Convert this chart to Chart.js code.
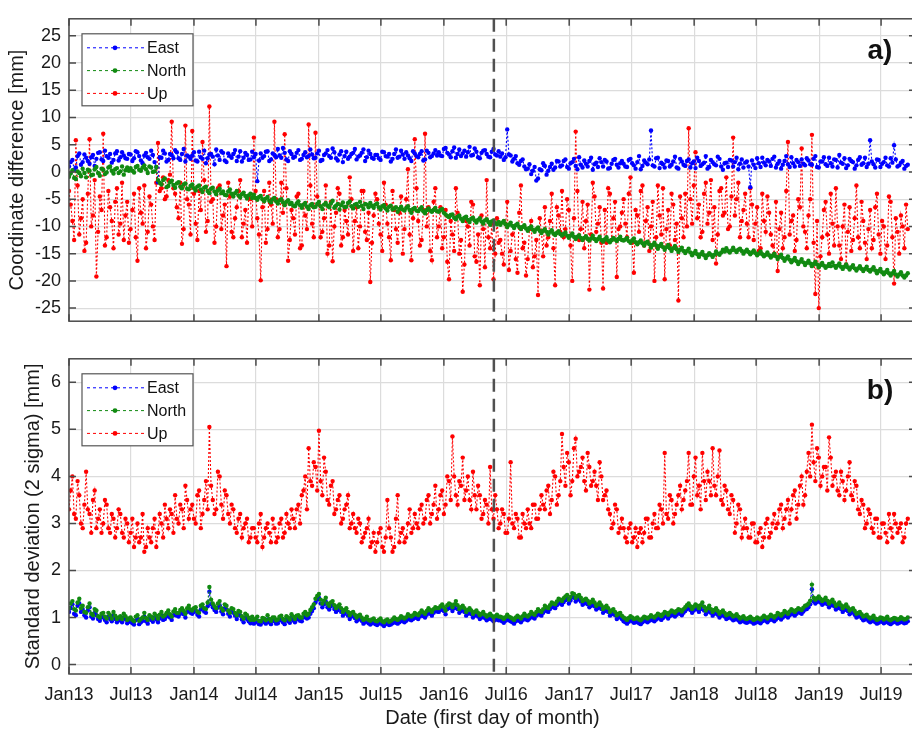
<!DOCTYPE html>
<html>
<head>
<meta charset="utf-8">
<script src="https://cdn.jsdelivr.net/npm/chart.js@4.4.0/dist/chart.umd.min.js"></script>
<style>
    html, body { margin: 0; padding: 0; background: #fff; overflow: hidden; width: 912px; height: 732px; }
    canvas { display: block; }
</style>
</head>
<body>
<canvas id="grafico-diferenca" width="920" height="340"></canvas>
<canvas id="grafico-desvio" width="920" height="392"></canvas>
<script>
// values read every 10 days from 1 Jan 2013 (day 0); the "Mid" lists are the readings 5 days later
const stepDays = 10;

// x axis: days since 1 Jan 2013 for the first day of each labelled month
const tickDays = [0, 181, 365, 546, 730, 911, 1095, 1277, 1461, 1642, 1826, 2007, 2191, 2372];
const tickLabels = ["Jan13", "Jul13", "Jan14", "Jul14", "Jan15", "Jul15", "Jan16", "Jul16", "Jan17", "Jul17", "Jan18", "Jul18", "Jan19", "Jul19"];
const splitDay = 1241; // dashed line, end of May 2016
const seriesNames = ["East", "North", "Up"];

// a) coordinate difference [mm]
const eastDiff = [
    1.0, 2.2, 0.8, 3.4, 1.8, 2.6, 1.5, 3.1, 2.4, 3.6, 2.0, 2.9, 3.3, 2.2, 3.8, 2.7, 3.0, 2.4,
    3.2, 2.5, 3.6, 2.1, 3.0, 2.7, 3.9, 1.8, -1.9, 2.6, 3.4, 2.2, 3.1, 4.0, 2.5, 3.3, 1.9, 2.8,
    3.0, 2.1, 3.7, 2.4, 1.6, 3.2, 2.8, 4.1, 2.2, 3.5, 1.8, 2.9, 3.3, 2.0, 3.8, 2.6, 3.1, 2.3,
    2.7, -1.7, 3.4, 2.9, 3.8, 2.3, 3.1, 4.2, 2.6, 3.5, 2.0, 3.3, 2.8, 4.0, 2.4, 3.6, 2.9, 3.2,
    2.6, 3.9, 2.2, 3.4, 2.9, 4.3, 2.5, 3.2, 1.8, 3.7, 2.8, 3.5, 2.3, 3.0, 4.1, 2.7, 3.3, 2.4,
    3.1, 2.2, 3.6, 2.8, 1.9, 3.3, 2.6, 3.9, 2.4, 3.0, 2.0, 3.4, 2.7, 3.8, 2.3, 3.5, 2.9, 4.0,
    3.6, 2.9, 4.4, 3.2, 3.8, 2.6, 4.1, 3.4, 2.8, 4.6, 3.1, 3.7, 2.5, 3.9, 3.3, 2.7, 4.2, 3.0,
    2.8, 2.2, 7.8, 3.0, 2.4, 1.6, 2.0, 1.0, 0.6, -0.4, 0.9, -1.2, 0.3, 1.1, 0.2, 1.5, 0.8, 1.9,
    1.2, 2.3, 0.6, 1.8, 1.1, 2.7, 0.8, 1.5, 2.0, 0.4, 1.7, 2.5, 1.0, 1.9, 0.7, 2.2, 1.3, 1.6,
    1.5, 0.9, 2.4, 1.2, 1.8, 0.5, 2.1, 1.4, 7.6, 1.0, 2.6, 1.7, 0.8, 2.0, 1.3, 2.8, 0.6, 1.9,
    1.1, 2.3, 1.6, 0.7, 2.0, 1.4, 2.9, 0.9, 1.8, 1.2, 2.4, 0.4, 1.7, 2.2, 1.0, 2.6, 1.5, 0.8,
    1.9, -2.8, 1.3, 2.5, 0.9, 1.7, 2.2, 1.1, 2.8, 1.5, 0.6, 2.0, 1.4, 2.7, 1.0, 1.8, 2.3, 1.2,
    2.1, 1.3, 2.9, 0.8, 1.9, 1.4, 2.6, 1.0, 2.2, 3.1, 1.5, 0.7, 2.4, 1.8, 1.2, 2.7, 1.6, 0.9,
    5.8, 1.4, 2.3, 0.9, 1.8, 1.2, 2.5, 4.9, 1.0, 1.7, 0.6, 1.3
];
const eastDiffMid = [
    1.8, 0.4, 2.9, 1.3, 3.2, 2.0, 2.7, 1.1, 3.5, 2.3, 3.9, 2.6, 1.7, 3.4, 2.1, 3.6, 2.5, 3.3,
    2.0, 3.8, 2.9, 1.6, 3.5, 2.4, 3.1, 0.9, 2.7, 3.9, 1.9, 3.3, 2.5, 3.6, 2.2, 4.2, 3.0, 2.4,
    3.6, 1.9, 2.7, 3.9, 2.5, 3.3, 1.4, 3.0, 3.8, 2.1, 3.4, 2.6, 4.0, 2.8, 1.9, 3.5, 2.2, 3.7,
    3.3, 2.1, 2.6, 3.7, 2.0, 3.4, 2.7, 3.0, 4.4, 2.3, 3.8, 2.6, 3.5, 2.2, 3.1, 2.7, 4.1, 2.5,
    3.4, 2.0, 3.1, 4.0, 2.6, 3.6, 2.1, 3.8, 2.9, 2.4, 3.3, 4.2, 2.8, 3.5, 2.0, 3.9, 2.6, 3.1,
    2.5, 3.7, 2.9, 3.3, 2.4, 4.1, 2.8, 3.2, 3.6, 2.5, 3.8, 2.9, 3.3, 2.1, 3.9, 2.7, 3.4, 3.0,
    3.0, 4.2, 3.5, 2.7, 4.5, 3.3, 2.9, 3.9, 3.6, 3.0, 4.3, 2.7, 3.5, 4.0, 2.8, 3.7, 3.2, 3.8,
    3.4, 2.7, 3.2, 1.9, 2.9, 1.3, 2.3, 0.5, 1.4, 0.2, -1.6, 0.5, 1.6, -0.5, 0.9, 0.4, 2.0, 1.0,
    2.0, 0.9, 1.6, 2.4, 0.5, 1.3, 2.1, 1.0, 2.6, 1.4, 0.9, 1.8, 2.2, 0.6, 1.5, 2.4, 0.8, 2.0,
    1.0, 2.2, 1.6, 0.6, 2.9, 1.1, 1.7, 2.3, 1.2, 2.5, 0.7, 1.4, 2.1, 1.0, 1.9, 0.8, 2.4, 1.3,
    2.0, 0.8, 1.9, 2.6, 1.1, 1.7, 0.6, 2.2, 1.4, 2.8, 1.0, 1.6, 0.9, 2.1, 1.8, 0.5, 2.3, 1.7,
    1.0, 2.1, 0.7, 1.6, 2.6, 1.2, 1.9, 2.4, 0.8, 2.0, 1.3, 2.9, 0.9, 1.6, 2.2, 1.1, 1.5, 2.5,
    1.4, 2.4, 0.9, 1.9, 2.7, 1.1, 1.6, 2.3, 0.8, 1.7, 2.5, 1.2, 2.0, 0.6, 2.2, 1.3, 2.6, 1.5,
    1.9, 0.8, 2.2, 1.5, 2.6, 1.0, 1.7, 2.3, 1.2, 2.0, 1.1
];
const northDiff = [
    -0.9, 0.3, -1.3, -0.2, 0.6, -1.0, 0.2, -0.5, 0.9, -0.7, 0.4, -0.1, 1.0, -0.3, 0.7, 0.1, -0.5, 0.8,
    0.7, -0.1, 1.1, 0.2, 1.2, -0.2, 0.8, 0.1, -1.5, -2.3, -1.2, -2.6, -1.6, -2.9, -1.9, -3.0, -2.1, -3.2,
    -2.3, -3.4, -2.5, -3.7, -2.7, -3.9, -2.9, -4.1, -3.1, -3.6, -4.3, -3.2, -4.5, -3.5, -4.7, -3.8, -4.9, -4.0,
    -4.2, -5.1, -4.4, -5.4, -4.6, -5.6, -4.8, -5.8, -5.0, -6.1, -5.2, -5.7, -6.3, -5.4, -6.6, -5.7, -6.8, -5.9,
    -6.4, -5.5, -6.8, -5.7, -6.5, -5.3, -6.2, -6.9, -5.6, -6.4, -5.4, -6.7, -5.9, -5.5, -6.8, -6.0, -5.7, -6.6,
    -5.8, -6.9, -6.1, -7.1, -6.2, -6.7, -7.3, -6.4, -7.1, -6.3, -7.5, -6.6, -7.2, -6.5, -7.6, -6.7, -7.3, -6.6,
    -7.3, -6.8, -7.8, -8.3, -7.8, -8.7, -8.0, -9.0, -8.2, -9.2, -8.4, -9.3, -8.5, -9.5, -8.7, -9.7, -8.9, -9.6,
    -9.7, -9.0, -10.1, -9.3, -10.3, -9.5, -10.5, -9.8, -10.8, -10.0, -11.0, -10.2, -11.2, -10.5, -11.5, -10.7, -11.6, -10.9,
    -11.7, -11.1, -12.1, -11.3, -12.3, -11.6, -12.5, -11.8, -12.6, -11.7, -12.7, -11.9, -12.8, -12.0, -12.9, -12.1, -12.7, -11.9,
    -12.6, -12.1, -13.0, -12.2, -13.3, -12.6, -13.5, -12.8, -13.9, -13.0, -14.1, -13.2, -14.3, -13.4, -14.5, -13.6, -14.7, -13.9,
    -14.9, -14.1, -15.3, -14.5, -15.6, -14.7, -15.8, -14.9, -15.6, -14.6, -15.2, -14.3, -14.0, -14.8, -13.9, -14.7, -14.1, -15.0,
    -14.3, -15.1, -14.4, -15.3, -14.6, -15.5, -14.8, -15.7, -15.0, -16.0, -15.2, -16.3, -15.5, -16.6, -15.8, -16.9, -16.0, -17.1,
    -16.3, -17.3, -16.5, -17.5, -16.7, -17.6, -16.9, -16.6, -17.6, -16.8, -17.8, -17.0, -17.9, -17.1, -18.1, -17.3, -18.2, -17.4,
    -18.3, -17.5, -18.6, -17.8, -18.8, -18.0, -19.0, -18.2, -19.2, -18.4, -19.4, -18.6
];
const northDiffMid = [
    -0.3, -1.1, 0.1, -0.8, -0.2, 0.4, -0.6, 0.5, -0.2, 0.6, -0.4, 0.8, 0.2, 0.5, -0.2, 1.0, 0.3, 0.2,
    0.2, 0.9, 0.4, 0.8, 0.5, 1.0, 0.0, 0.9, -2.0, -1.5, -2.8, -1.9, -2.4, -2.1, -2.7, -2.3, -3.1, -2.6,
    -3.0, -2.7, -3.2, -2.9, -3.5, -3.1, -3.6, -3.4, -3.9, -4.2, -3.6, -4.0, -3.9, -4.3, -4.1, -4.4, -4.3, -4.8,
    -4.8, -4.6, -5.0, -4.9, -5.3, -5.0, -5.4, -5.2, -5.6, -5.5, -5.9, -6.2, -5.8, -6.1, -6.0, -6.4, -6.1, -6.5,
    -5.9, -6.3, -6.0, -6.2, -5.8, -6.6, -5.9, -6.1, -6.5, -5.7, -6.3, -6.0, -6.4, -6.2, -5.9, -6.5, -6.2, -6.0,
    -6.5, -6.3, -6.7, -6.4, -6.9, -6.5, -6.8, -6.9, -6.6, -7.0, -6.8, -7.1, -6.8, -7.2, -7.0, -7.1, -7.0, -7.2,
    -7.0, -7.5, -8.1, -7.9, -8.4, -8.2, -8.6, -8.4, -8.8, -8.6, -8.9, -8.8, -9.1, -8.9, -9.2, -9.1, -9.4, -9.2,
    -9.3, -9.6, -9.7, -9.9, -9.8, -10.1, -10.1, -10.4, -10.3, -10.6, -10.5, -10.8, -10.8, -11.0, -11.0, -11.3, -11.2, -11.4,
    -11.4, -11.7, -11.7, -11.9, -11.9, -12.1, -12.1, -12.3, -12.2, -12.3, -12.3, -12.5, -12.4, -12.6, -12.5, -12.4, -12.3, -12.5,
    -12.4, -12.7, -12.6, -12.9, -12.9, -13.1, -13.0, -13.3, -13.4, -13.5, -13.6, -13.8, -13.8, -14.0, -14.0, -14.2, -14.3, -14.5,
    -14.5, -14.8, -14.9, -15.1, -15.1, -15.3, -15.3, -15.2, -15.2, -15.0, -14.8, -14.6, -14.5, -14.4, -14.4, -14.3, -14.5, -14.6,
    -14.7, -14.8, -14.9, -15.0, -15.1, -15.2, -15.3, -15.4, -15.5, -15.6, -15.8, -15.9, -16.1, -16.2, -16.4, -16.5, -16.6, -16.7,
    -16.8, -16.9, -17.0, -17.1, -17.2, -17.3, -17.3, -17.2, -17.2, -17.4, -17.4, -17.5, -17.5, -17.7, -17.7, -17.8, -17.8, -18.0,
    -17.9, -18.1, -18.2, -18.4, -18.4, -18.6, -18.6, -18.8, -18.8, -19.0, -19.0
];
const upDiff = [
    -3.5, -9.0, 5.8, -11.5, -5.0, -13.0, 6.0, -8.0, -19.2, -4.5, 7.0, -12.0, -6.5, -14.0, -3.0, -9.5, -12.5, -5.5,
    -10.5, -4.0, -16.3, -7.5, -2.5, -11.0, -6.0, -12.5, 5.3, -3.0, -5.0, -1.5, 9.2, -4.0, -8.5, -13.2, 8.5, -6.0,
    7.5, -9.5, -3.5, 5.5, -11.0, 12.0, -5.0, -10.0, -2.5, -8.0, -17.3, -4.5, -12.0, -6.5, -1.5, -9.5, -13.0, -5.0,
    6.3, -8.5, -19.9, -3.5, -10.5, -6.0, 9.2, -12.0, -2.0, 6.9, -16.3, -7.0, -11.5, -4.0, -13.5, -8.0, 8.7, -9.5,
    7.2, -6.0, -11.0, -2.5, -13.5, -16.4, -7.5, -4.0, -12.0, -9.0, -1.0, -14.5, -6.5, -10.0, -3.5, -12.5, -20.2, -8.0,
    -5.0, -11.5, -2.0, -9.5, -16.2, -7.0, -13.0, -4.5, -10.5, 0.5, -16.2, 6.0, -9.0, -12.5, 7.0, -6.5, -16.2, -3.0,
    -10.0, -14.0, -7.0, -19.7, -11.5, -3.0, -15.0, -22.0, -9.0, -13.5, -6.0, -16.5, -20.8, -10.5, -1.5, -14.0, -19.7, -8.5,
    -12.5, -17.0, -5.5, -14.5, -10.0, -18.5, -2.5, -13.0, -16.0, -9.0, -15.5, -22.6, -11.0, -6.5, -12.0, -4.0, -20.8, -8.0,
    -3.5, -10.5, -7.0, -20.0, 7.4, -12.5, -5.5, -9.0, -21.6, -2.0, -11.0, -6.5, -21.4, -13.0, -4.0, -8.5, -19.3, -10.0,
    -5.0, -12.0, -1.0, -18.5, -8.0, -3.5, -13.5, -6.5, -10.0, -20.0, -2.5, -11.5, -19.7, -7.0, -4.0, -12.5, -23.6, -8.5,
    -4.0, 8.0, -9.5, 3.6, -6.0, -11.0, -2.0, -7.5, -12.5, -16.8, -3.5, -8.0, -1.0, -10.0, 6.3, -5.0, -12.0, -7.0,
    -9.5, -3.0, -12.5, -6.5, -14.0, -9.0, -4.5, -11.5, -15.0, -18.2, -7.5, -12.0, 5.5, -9.0, -14.5, -5.0, 4.3, -11.0,
    -8.0, 6.8, -22.4, -25.0, -12.0, -5.5, -15.0, -9.5, -3.0, -13.5, -10.0, -17.0, -6.5, -12.5, -2.5, -14.0, -9.0, -16.0,
    -7.0, -12.5, -4.0, -15.0, -10.0, -13.5, -5.5, -20.5, -11.0, -8.0, -14.0, -10.5
];
const upDiffMid = [
    -6.0, -12.5, -2.5, -8.5, -14.5, -4.0, -10.0, -1.5, -11.0, -7.0, -13.5, -3.5, -9.0, -5.5, -11.5, -2.0, -8.0, -13.0,
    -7.0, -12.0, -3.0, -9.5, -14.0, -4.5, -10.0, -2.0, -3.5, -1.0, -4.5, -0.5, -3.0, -6.5, -2.0, -10.5, -5.0, -11.5,
    -4.0, -12.5, -7.0, -1.5, -9.0, -5.5, -13.0, -3.0, -10.5, -6.0, -2.0, -11.0, -8.5, -3.5, -12.0, -7.0, -4.5, -10.0,
    -3.5, -11.5, -6.5, -13.0, -2.0, -9.5, -5.0, -10.5, -7.5, -3.0, -12.5, -8.5, -4.5, -14.0, -6.0, -10.5, -2.5, -12.0,
    -4.5, -12.0, -8.5, -15.0, -5.5, -10.0, -3.0, -13.5, -7.0, -11.5, -5.0, -9.0, -14.0, -3.5, -11.0, -7.5, -13.0, -4.0,
    -9.5, -14.5, -6.0, -12.0, -3.5, -10.5, -7.5, -15.0, -5.0, -11.5, -8.5, -3.0, -13.5, -7.0, -10.0, -14.5, -5.5, -12.0,
    -6.5, -12.0, -16.5, -9.0, -14.5, -7.5, -12.5, -17.0, -10.0, -5.5, -15.5, -11.5, -8.0, -17.5, -12.0, -9.5, -15.0, -13.0,
    -15.0, -9.5, -18.0, -11.5, -16.0, -7.5, -14.0, -19.0, -10.5, -17.5, -12.5, -8.5, -15.5, -13.5, -9.0, -14.0, -6.5, -11.0,
    -12.0, -5.0, -13.5, -8.5, -3.5, -10.5, -14.0, -6.0, -11.5, -4.5, -9.5, -13.0, -7.0, -3.0, -12.5, -5.5, -10.5, -7.5,
    -9.5, -4.0, -13.0, -7.0, -11.0, -2.5, -9.0, -14.5, -5.5, -12.0, -8.0, -3.0, -10.5, -13.5, -6.0, -9.5, -4.5, -12.0,
    -10.0, -5.0, -2.5, -8.5, -12.0, -4.0, -9.5, -1.5, -6.5, -11.5, -3.0, -7.5, -10.5, -4.5, -8.0, -2.0, -9.0, -4.0,
    -12.0, -6.0, -9.5, -14.5, -4.0, -11.0, -7.5, -13.5, -5.5, -10.5, -14.0, -3.5, -11.5, -8.0, -12.5, -6.5, -10.0, -14.0,
    -5.0, -13.0, -9.0, -15.5, -7.0, -11.5, -4.0, -13.5, -10.0, -16.0, -6.0, -11.0, -14.5, -8.5, -12.0, -5.5, -13.0, -10.5,
    -14.0, -6.5, -11.5, -9.0, -16.0, -4.5, -12.0, -8.5, -15.0, -10.0, -6.0
];

// b) standard deviation (2 sigma) [mm]
const eastSigma = [
    1.12, 1.28, 1.05, 1.3, 1.18, 1.0, 1.22, 0.98, 1.05, 0.93, 1.02, 0.9, 0.97, 1.04, 0.9, 0.95, 1.0, 0.88,
    0.93, 0.85, 0.97, 0.9, 1.02, 0.87, 0.95, 1.0, 0.9, 1.04, 0.97, 1.07, 0.95, 1.1, 1.02, 1.12, 1.0, 1.17,
    1.08, 1.14, 1.02, 1.2, 1.1, 1.55, 1.22, 1.12, 1.26, 1.07, 1.17, 1.02, 1.1, 0.97, 1.04, 0.9, 0.97, 0.88,
    0.87, 0.94, 0.85, 0.9, 0.96, 0.86, 0.92, 0.88, 0.96, 0.86, 0.92, 0.99, 0.9, 0.97, 0.92, 1.04, 1.0, 1.14,
    1.32, 1.42, 1.22, 1.34, 1.17, 1.27, 1.12, 1.2, 1.04, 1.12, 0.97, 1.04, 0.92, 0.98, 0.87, 0.94, 0.85, 0.9,
    0.84, 0.9, 0.82, 0.88, 0.85, 0.92, 0.87, 0.95, 0.9, 0.99, 0.94, 1.02, 0.97, 1.07, 1.0, 1.12, 1.04, 1.14,
    1.12, 1.2, 1.07, 1.22, 1.14, 1.27, 1.1, 1.17, 1.04, 1.12, 1.0, 1.07, 0.97, 1.04, 0.94, 1.0, 0.92, 0.98,
    0.94, 0.89, 0.98, 0.92, 0.87, 0.96, 0.9, 1.0, 0.94, 1.04, 0.98, 1.1, 1.04, 1.17, 1.12, 1.24, 1.2, 1.32,
    1.27, 1.37, 1.3, 1.44, 1.34, 1.4, 1.27, 1.32, 1.22, 1.3, 1.17, 1.24, 1.1, 1.17, 1.04, 1.1, 0.97, 1.02,
    0.92, 0.87, 0.95, 0.89, 0.92, 0.86, 0.94, 0.9, 0.97, 0.92, 1.0, 0.95, 1.04, 0.98, 1.07, 1.02, 1.1, 1.05,
    1.14, 1.22, 1.1, 1.2, 1.12, 1.24, 1.07, 1.17, 1.04, 1.12, 1.0, 1.07, 0.97, 1.02, 0.94, 0.99, 0.9, 0.95,
    0.89, 0.94, 0.87, 0.92, 0.88, 0.96, 0.9, 0.98, 0.92, 1.02, 0.96, 1.06, 1.0, 1.1, 1.04, 1.12, 1.08, 1.17,
    1.22, 1.6, 1.3, 1.37, 1.27, 1.34, 1.22, 1.3, 1.17, 1.24, 1.12, 1.2, 1.07, 1.12, 1.0, 1.04, 0.94, 0.98,
    0.9, 0.96, 0.87, 0.92, 0.88, 0.94, 0.86, 0.91, 0.87, 0.93, 0.88, 0.92
];
const eastSigmaMid = [
    1.2, 1.08, 1.25, 1.12, 1.05, 1.15, 1.02, 1.1, 0.97, 1.0, 0.95, 1.02, 0.92, 0.97, 0.94, 0.9, 0.96, 0.91,
    0.88, 0.94, 0.86, 0.93, 0.92, 0.97, 0.91, 0.96, 0.98, 0.95, 1.02, 1.0, 1.05, 1.04, 1.08, 1.07, 1.12, 1.1,
    1.12, 1.06, 1.17, 1.13, 1.24, 1.28, 1.16, 1.21, 1.13, 1.2, 1.08, 1.12, 1.04, 1.06, 0.96, 1.0, 0.92, 0.94,
    0.9, 0.86, 0.92, 0.87, 0.9, 0.93, 0.87, 0.94, 0.9, 0.96, 0.89, 0.94, 0.96, 0.93, 1.0, 0.98, 1.08, 1.2,
    1.38, 1.3, 1.28, 1.22, 1.24, 1.18, 1.16, 1.12, 1.08, 1.04, 1.02, 0.99, 0.96, 0.93, 0.9, 0.88, 0.88, 0.86,
    0.87, 0.85, 0.86, 0.84, 0.88, 0.89, 0.9, 0.92, 0.93, 0.96, 0.97, 0.99, 1.02, 1.03, 1.06, 1.08, 1.1, 1.13,
    1.16, 1.14, 1.18, 1.2, 1.2, 1.18, 1.14, 1.12, 1.08, 1.07, 1.04, 1.02, 1.0, 0.99, 0.97, 0.96, 0.95, 0.94,
    0.92, 0.93, 0.94, 0.9, 0.92, 0.93, 0.95, 0.96, 0.98, 1.0, 1.04, 1.06, 1.1, 1.14, 1.18, 1.22, 1.26, 1.3,
    1.33, 1.4, 1.36, 1.42, 1.38, 1.34, 1.3, 1.28, 1.25, 1.24, 1.2, 1.18, 1.14, 1.12, 1.07, 1.05, 1.0, 0.97,
    0.9, 0.91, 0.92, 0.9, 0.88, 0.9, 0.92, 0.93, 0.94, 0.96, 0.98, 0.99, 1.02, 1.03, 1.05, 1.06, 1.08, 1.1,
    1.18, 1.16, 1.15, 1.17, 1.18, 1.15, 1.12, 1.1, 1.08, 1.06, 1.04, 1.02, 0.99, 0.98, 0.96, 0.94, 0.92, 0.9,
    0.91, 0.9, 0.89, 0.9, 0.92, 0.93, 0.94, 0.95, 0.96, 0.99, 1.0, 1.03, 1.05, 1.07, 1.08, 1.1, 1.13, 1.18,
    1.28, 1.34, 1.33, 1.32, 1.3, 1.28, 1.26, 1.24, 1.2, 1.18, 1.16, 1.14, 1.1, 1.06, 1.02, 0.99, 0.96, 0.93,
    0.92, 0.9, 0.89, 0.91, 0.9, 0.88, 0.89, 0.9, 0.89, 0.9, 0.89
];
const northSigma = [
    1.2, 1.35, 1.15, 1.4, 1.25, 1.1, 1.3, 1.05, 1.15, 1.0, 1.1, 0.98, 1.05, 1.12, 0.97, 1.03, 1.08, 0.95,
    1.0, 0.92, 1.05, 0.97, 1.1, 0.95, 1.02, 1.08, 0.98, 1.12, 1.05, 1.15, 1.02, 1.18, 1.1, 1.2, 1.08, 1.25,
    1.15, 1.22, 1.1, 1.28, 1.18, 1.65, 1.3, 1.2, 1.35, 1.15, 1.25, 1.1, 1.18, 1.05, 1.12, 0.98, 1.05, 0.95,
    0.95, 1.02, 0.92, 0.98, 1.05, 0.93, 1.0, 0.96, 1.04, 0.94, 1.0, 1.07, 0.97, 1.05, 1.0, 1.12, 1.08, 1.22,
    1.4, 1.5, 1.3, 1.42, 1.25, 1.35, 1.2, 1.28, 1.12, 1.2, 1.05, 1.12, 1.0, 1.06, 0.95, 1.02, 0.93, 0.98,
    0.92, 0.98, 0.9, 0.96, 0.93, 1.0, 0.95, 1.03, 0.98, 1.07, 1.02, 1.1, 1.05, 1.15, 1.08, 1.2, 1.12, 1.22,
    1.2, 1.28, 1.15, 1.3, 1.22, 1.35, 1.18, 1.25, 1.12, 1.2, 1.08, 1.15, 1.05, 1.12, 1.02, 1.08, 1.0, 1.06,
    1.02, 0.97, 1.06, 1.0, 0.95, 1.04, 0.98, 1.08, 1.02, 1.12, 1.06, 1.18, 1.12, 1.25, 1.2, 1.32, 1.28, 1.4,
    1.35, 1.45, 1.38, 1.52, 1.42, 1.48, 1.35, 1.4, 1.3, 1.38, 1.25, 1.32, 1.18, 1.25, 1.12, 1.18, 1.05, 1.1,
    1.0, 0.95, 1.03, 0.97, 1.0, 0.94, 1.02, 0.98, 1.05, 1.0, 1.08, 1.03, 1.12, 1.06, 1.15, 1.1, 1.18, 1.13,
    1.22, 1.3, 1.18, 1.28, 1.2, 1.32, 1.15, 1.25, 1.12, 1.2, 1.08, 1.15, 1.05, 1.1, 1.02, 1.07, 0.98, 1.03,
    0.97, 1.02, 0.95, 1.0, 0.96, 1.04, 0.98, 1.06, 1.0, 1.1, 1.04, 1.14, 1.08, 1.18, 1.12, 1.2, 1.16, 1.25,
    1.3, 1.7, 1.38, 1.45, 1.35, 1.42, 1.3, 1.38, 1.25, 1.32, 1.2, 1.28, 1.15, 1.2, 1.08, 1.12, 1.02, 1.06,
    0.98, 1.04, 0.95, 1.0, 0.96, 1.02, 0.94, 0.99, 0.95, 1.01, 0.96, 1.0
];
const northSigmaMid = [
    1.3, 1.18, 1.32, 1.2, 1.12, 1.22, 1.08, 1.18, 1.03, 1.08, 1.02, 1.1, 0.98, 1.04, 1.0, 0.97, 1.03, 0.98,
    0.95, 1.02, 0.93, 1.0, 0.99, 1.05, 0.98, 1.04, 1.06, 1.02, 1.1, 1.07, 1.13, 1.1, 1.16, 1.14, 1.2, 1.17,
    1.2, 1.13, 1.25, 1.2, 1.32, 1.38, 1.24, 1.3, 1.2, 1.28, 1.15, 1.2, 1.1, 1.14, 1.03, 1.08, 0.99, 1.02,
    0.97, 0.93, 0.99, 0.94, 0.97, 1.0, 0.94, 1.02, 0.97, 1.03, 0.96, 1.02, 1.04, 1.0, 1.08, 1.05, 1.16, 1.28,
    1.46, 1.38, 1.36, 1.3, 1.32, 1.26, 1.24, 1.2, 1.16, 1.12, 1.1, 1.06, 1.04, 1.0, 0.97, 0.95, 0.96, 0.93,
    0.95, 0.92, 0.94, 0.91, 0.96, 0.97, 0.98, 1.0, 1.01, 1.04, 1.05, 1.07, 1.1, 1.11, 1.14, 1.16, 1.18, 1.2,
    1.24, 1.22, 1.26, 1.28, 1.28, 1.26, 1.22, 1.2, 1.16, 1.15, 1.12, 1.1, 1.08, 1.06, 1.05, 1.04, 1.03, 1.02,
    1.0, 1.01, 1.02, 0.98, 1.0, 1.01, 1.03, 1.04, 1.06, 1.08, 1.12, 1.14, 1.18, 1.22, 1.26, 1.3, 1.34, 1.38,
    1.41, 1.48, 1.44, 1.5, 1.46, 1.42, 1.38, 1.36, 1.33, 1.32, 1.28, 1.26, 1.22, 1.2, 1.15, 1.12, 1.08, 1.04,
    0.98, 0.99, 1.0, 0.98, 0.96, 0.98, 1.0, 1.01, 1.02, 1.04, 1.06, 1.07, 1.1, 1.11, 1.13, 1.14, 1.16, 1.18,
    1.26, 1.24, 1.23, 1.25, 1.26, 1.23, 1.2, 1.18, 1.16, 1.14, 1.12, 1.1, 1.07, 1.06, 1.04, 1.02, 1.0, 0.98,
    0.99, 0.98, 0.97, 0.98, 1.0, 1.01, 1.02, 1.03, 1.04, 1.07, 1.08, 1.11, 1.13, 1.15, 1.16, 1.18, 1.21, 1.26,
    1.36, 1.42, 1.41, 1.4, 1.38, 1.36, 1.34, 1.32, 1.28, 1.26, 1.24, 1.22, 1.18, 1.14, 1.1, 1.07, 1.04, 1.01,
    1.0, 0.98, 0.97, 0.99, 0.98, 0.96, 0.97, 0.98, 0.97, 0.98, 0.97
];
const upSigma = [
    3.3, 4.0, 3.1, 3.6, 2.9, 4.1, 3.2, 3.5, 2.9, 3.3, 3.0, 3.4, 2.8, 3.1, 2.9, 3.2, 2.7, 3.0,
    2.8, 2.5, 3.0, 2.7, 2.4, 2.9, 2.6, 3.1, 2.8, 3.0, 3.4, 2.9, 3.2, 3.6, 3.0, 3.3, 3.8, 3.1,
    3.4, 3.0, 3.7, 3.2, 3.9, 5.05, 3.5, 3.3, 4.0, 3.1, 3.6, 3.0, 3.3, 2.8, 3.2, 2.9, 3.1, 2.7,
    2.9, 2.6, 3.2, 2.7, 3.0, 2.6, 2.9, 2.7, 3.1, 2.8, 3.0, 3.3, 2.9, 3.4, 3.6, 4.0, 4.6, 3.8,
    4.2, 4.97, 3.6, 4.1, 3.4, 3.9, 3.3, 3.6, 3.1, 3.4, 2.9, 3.2, 2.8, 3.0, 2.7, 2.9, 2.5, 2.8,
    2.6, 2.9, 2.4, 3.5, 2.7, 2.5, 3.6, 2.8, 2.6, 3.0, 2.8, 3.2, 2.9, 3.4, 3.1, 3.6, 3.2, 3.8,
    3.3, 3.7, 3.4, 3.9, 4.85, 3.6, 3.9, 4.4, 3.7, 3.5, 4.1, 3.3, 3.6, 3.2, 3.4, 4.2, 3.1, 3.3,
    3.0, 3.2, 2.8, 4.3, 2.9, 3.1, 2.7, 3.0, 3.3, 2.9, 3.4, 3.1, 3.6, 3.3, 3.8, 3.5, 4.0, 3.6,
    4.9, 3.8, 4.3, 3.9, 4.8, 4.1, 4.4, 3.7, 4.2, 3.9, 3.8, 4.3, 3.5, 3.7, 3.2, 3.0, 3.3, 2.9,
    2.9, 2.6, 3.0, 2.7, 2.5, 2.9, 2.8, 3.1, 2.7, 3.2, 2.9, 3.3, 4.5, 3.1, 3.5, 3.2, 3.6, 3.3,
    3.7, 4.5, 3.4, 4.4, 3.8, 4.5, 3.5, 3.9, 4.6, 3.6, 4.55, 3.4, 3.7, 3.2, 3.5, 3.0, 3.3, 2.9,
    2.9, 2.7, 3.0, 2.6, 2.9, 2.7, 3.1, 2.8, 3.2, 3.0, 3.4, 3.1, 3.5, 3.3, 3.7, 3.4, 4.0, 3.6,
    4.5, 5.1, 3.9, 4.4, 4.0, 4.2, 4.83, 3.8, 4.1, 3.6, 3.9, 3.7, 4.3, 3.5, 3.8, 3.2, 3.4, 3.0,
    3.2, 2.8, 3.1, 2.7, 3.0, 2.6, 2.9, 3.2, 2.8, 3.0, 2.7, 3.1
];
const upSigmaMid = [
    3.7, 3.2, 3.9, 3.0, 3.4, 3.3, 2.8, 3.7, 3.1, 2.8, 3.5, 2.9, 3.2, 2.7, 3.3, 2.8, 3.1, 2.6,
    3.1, 2.7, 2.6, 3.2, 2.5, 2.7, 2.9, 2.5, 3.2, 2.7, 3.1, 3.3, 2.8, 3.1, 3.4, 2.9, 3.5, 3.3,
    3.1, 3.6, 2.9, 3.5, 3.3, 3.8, 3.2, 4.1, 3.4, 3.7, 3.2, 3.4, 2.9, 3.1, 2.7, 3.0, 2.6, 2.9,
    2.7, 3.0, 2.5, 2.9, 2.8, 3.1, 2.6, 3.0, 2.7, 3.2, 2.9, 3.1, 3.3, 3.0, 3.7, 3.3, 3.9, 4.3,
    3.7, 3.9, 4.4, 3.5, 3.8, 3.2, 3.5, 3.0, 3.3, 3.6, 3.0, 2.9, 3.1, 2.6, 2.8, 3.1, 2.6, 2.4,
    2.8, 2.5, 2.7, 2.9, 2.4, 3.1, 2.6, 2.9, 2.7, 3.3, 2.9, 3.0, 3.3, 3.0, 3.5, 3.0, 3.4, 3.1,
    3.6, 3.2, 4.0, 3.5, 4.0, 3.4, 3.8, 3.5, 4.0, 3.3, 3.6, 3.8, 3.1, 3.5, 3.0, 3.3, 3.6, 2.9,
    3.3, 2.8, 3.1, 3.0, 3.2, 2.7, 3.2, 2.9, 3.0, 3.4, 3.1, 3.3, 3.4, 3.7, 3.2, 4.1, 3.4, 3.9,
    4.2, 4.5, 3.6, 4.6, 4.0, 4.2, 3.9, 4.5, 3.8, 4.1, 3.5, 4.0, 3.6, 3.3, 2.9, 3.4, 2.8, 3.1,
    2.7, 2.9, 2.6, 2.9, 2.8, 2.6, 3.1, 2.7, 3.0, 2.9, 3.4, 3.0, 3.2, 3.6, 3.0, 3.4, 3.8, 3.5,
    3.9, 3.4, 4.0, 3.6, 3.3, 3.9, 4.1, 3.6, 3.8, 4.0, 3.5, 3.8, 3.3, 3.6, 2.8, 3.4, 2.7, 3.1,
    2.7, 3.0, 2.6, 2.8, 2.5, 3.0, 2.7, 3.0, 2.9, 3.3, 2.9, 3.3, 3.0, 3.6, 3.1, 3.8, 3.4, 4.1,
    4.0, 4.3, 4.6, 3.8, 4.2, 3.7, 4.4, 4.0, 3.7, 4.1, 3.5, 4.0, 3.6, 3.9, 3.3, 3.5, 2.9, 3.3,
    2.9, 3.1, 2.7, 3.0, 2.8, 3.2, 2.7, 3.0, 2.9, 2.6, 3.0
];

const yTicksDiff = [-25, -20, -15, -10, -5, 0, 5, 10, 15, 20, 25];
const yTicksSigma = [0, 1, 2, 3, 4, 5, 6];

const cores = ["#0000ff", "#118a11", "#ff0000"];
const fonte = "'Liberation Sans', Arial, sans-serif";

// puts the 10-day readings and the in-between readings in time order
function pontos(valores, meio) {
    const lista = [];
    valores.forEach((v, i) => {
        lista.push({ x: i * stepDays, y: v });
        if (i < meio.length) lista.push({ x: i * stepDays + stepDays / 2, y: meio[i] });
    });
    return lista;
}

function serie(nome, valores, meio, cor, ordem) {
    return {
        label: nome,
        data: pontos(valores, meio),
        borderColor: cor,
        backgroundColor: cor,
        borderWidth: 1.1,
        borderDash: [2, 2],
        pointRadius: 2.2,
        pointBorderWidth: 0,
        pointBackgroundColor: cor,
        tension: 0,
        order: ordem
    };
}

// frame, inner ticks, dashed line, legend and panel letter
const moldura = {
    id: "moldura",
    afterDatasetsDraw(chart, args, opts) {
        const ctx = chart.ctx;
        const area = chart.chartArea;
        const sx = chart.scales.x;
        const sy = chart.scales.y;
        ctx.save();

        const xs = sx.getPixelForValue(splitDay);
        ctx.strokeStyle = "#505050";
        ctx.lineWidth = 2.5;
        ctx.setLineDash([13, 7]);
        ctx.beginPath();
        ctx.moveTo(xs, area.top);
        ctx.lineTo(xs, area.bottom);
        ctx.stroke();
        ctx.setLineDash([]);

        ctx.strokeStyle = "#4a4a4a";
        ctx.lineWidth = 1.5;
        ctx.strokeRect(area.left, area.top, area.right - area.left, area.bottom - area.top);
        ctx.beginPath();
        sx.ticks.forEach(t => {
            const px = sx.getPixelForValue(t.value);
            ctx.moveTo(px, area.top);
            ctx.lineTo(px, area.top + 7);
            ctx.moveTo(px, area.bottom);
            ctx.lineTo(px, area.bottom - 7);
        });
        sy.ticks.forEach(t => {
            const py = sy.getPixelForValue(t.value);
            ctx.moveTo(area.left, py);
            ctx.lineTo(area.left + 7, py);
            ctx.moveTo(area.right, py);
            ctx.lineTo(area.right - 7, py);
        });
        ctx.stroke();

        const lx = area.left + 13;
        const ly = area.top + 15;
        ctx.fillStyle = "#fff";
        ctx.fillRect(lx, ly, 111, 72);
        ctx.strokeStyle = "#555";
        ctx.lineWidth = 1.2;
        ctx.strokeRect(lx, ly, 111, 72);
        ctx.font = "16px " + fonte;
        ctx.textBaseline = "middle";
        ctx.textAlign = "left";
        chart.data.datasets.forEach((ds, i) => {
            const yy = ly + 14 + i * 22.8;
            ctx.strokeStyle = ds.borderColor;
            ctx.lineWidth = 1;
            ctx.setLineDash([3, 3]);
            ctx.beginPath();
            ctx.moveTo(lx + 5, yy);
            ctx.lineTo(lx + 62, yy);
            ctx.stroke();
            ctx.setLineDash([]);
            ctx.fillStyle = ds.borderColor;
            ctx.beginPath();
            ctx.arc(lx + 33, yy, 2.4, 0, Math.PI * 2);
            ctx.fill();
            ctx.fillStyle = "#111";
            ctx.fillText(ds.label, lx + 65, yy + 1);
        });

        ctx.font = "bold 28px " + fonte;
        ctx.fillStyle = "#111";
        ctx.textAlign = "center";
        ctx.fillText(opts.letra, area.right - 36, area.top + 32);
        ctx.restore();
    }
};

function grafico(id, datasets, cfg) {
    return new Chart(document.getElementById(id), {
        type: "line",
        data: { datasets: datasets },
        plugins: [moldura],
        options: {
            responsive: false,
            animation: false,
            layout: { padding: { top: cfg.top, right: 1, left: 0, bottom: 0 } },
            plugins: {
                legend: { display: false },
                tooltip: { enabled: false },
                moldura: { letra: cfg.letra }
            },
            scales: {
                x: {
                    type: "linear",
                    min: 0,
                    max: 2474,
                    afterBuildTicks: (s) => { s.ticks = tickDays.map(v => ({ value: v })); },
                    afterFit: (s) => { s.height = cfg.xHeight; },
                    grid: { color: "#dcdcdc", lineWidth: 1.2, drawTicks: false },
                    border: { display: false },
                    ticks: {
                        display: cfg.xLabels,
                        autoSkip: false,
                        maxRotation: 0,
                        padding: 10,
                        color: "#1a1a1a",
                        font: { family: fonte, size: 18 },
                        callback: (v) => tickLabels[tickDays.indexOf(v)]
                    },
                    title: {
                        display: cfg.xLabels,
                        text: "Date (first day of month)",
                        color: "#1a1a1a",
                        font: { family: fonte, size: 20 },
                        padding: { top: 0, bottom: 2 }
                    }
                },
                y: {
                    min: cfg.yMin,
                    max: cfg.yMax,
                    afterBuildTicks: (s) => { s.ticks = cfg.yTicks.map(v => ({ value: v })); },
                    afterFit: (s) => { s.width = 69; },
                    grid: { color: "#dcdcdc", lineWidth: 1.2, drawTicks: false },
                    border: { display: false },
                    ticks: {
                        padding: 8,
                        color: "#1a1a1a",
                        font: { family: fonte, size: 18 }
                    },
                    title: {
                        display: true,
                        text: cfg.yTitle,
                        color: "#1a1a1a",
                        font: { family: fonte, size: 20 },
                        padding: { top: cfg.yTitlePad, bottom: 0 }
                    }
                }
            }
        }
    });
}

grafico("grafico-diferenca", [
    serie(seriesNames[0], eastDiff, eastDiffMid, cores[0], 1),
    serie(seriesNames[1], northDiff, northDiffMid, cores[1], 0),
    serie(seriesNames[2], upDiff, upDiffMid, cores[2], 2)
], {
    top: 8, xHeight: 8, xLabels: false, letra: "a)",
    yMin: -27.4, yMax: 28.1, yTicks: yTicksDiff,
    yTitle: "Coordinate difference [mm]", yTitlePad: 5.5
});

grafico("grafico-desvio", [
    serie(seriesNames[0], eastSigma, eastSigmaMid, cores[0], 1),
    serie(seriesNames[1], northSigma, northSigmaMid, cores[1], 0),
    serie(seriesNames[2], upSigma, upSigmaMid, cores[2], 2)
], {
    top: 9, xHeight: 58, xLabels: true, letra: "b)",
    yMin: -0.2, yMax: 6.5, yTicks: yTicksSigma,
    yTitle: "Standard deviation (2 sigma) [mm]", yTitlePad: 21
});
</script>
</body>
</html>
